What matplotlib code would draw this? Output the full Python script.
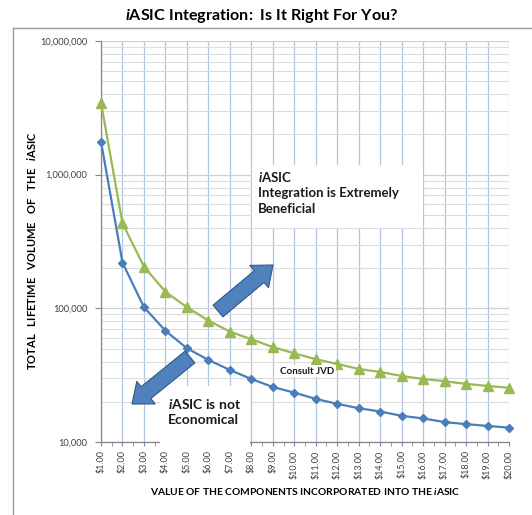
import matplotlib
matplotlib.use("Agg")
import matplotlib.pyplot as plt
from matplotlib.ticker import FixedLocator, FuncFormatter, LogLocator, NullFormatter, MultipleLocator
from matplotlib.lines import Line2D
from matplotlib.patches import Rectangle

plt.rcParams['font.family'] = ['Lato', 'DejaVu Sans']
plt.rcParams['mathtext.fontset'] = 'custom'
plt.rcParams['mathtext.it'] = 'Lato:italic:bold'
plt.rcParams['mathtext.rm'] = 'Lato:bold'
plt.rcParams['mathtext.bf'] = 'Lato:bold'

# Data
component_value = list(range(1, 21))
tick_labels = [f"${v}.00" for v in component_value]
volume_not_economical = [1770000, 220000, 102000, 68000, 50300, 41100, 34600, 29600, 25800,
                         23400, 21000, 19300, 17900, 16900, 15700, 15000, 14100, 13600, 13200, 12800]
volume_beneficial = [3460000, 433000, 205000, 133000, 102000, 81000, 67000, 58700, 51300,
                     46100, 41600, 38400, 35200, 33400, 31200, 29600, 28500, 27200, 26300, 25400]

W, H = 532, 515
fig = plt.figure(figsize=(W / 100, H / 100), dpi=100)
AX_L, AX_T, AX_W, AX_H = 101, 41, 408, 401
ax = fig.add_axes([AX_L / W, 1 - (AX_T + AX_H) / H, AX_W / W, AX_H / H])


def axfrac(px, py):
    return (px - AX_L) / AX_W, (AX_T + AX_H - py) / AX_H


ax.set_yscale('log')
ax.set_ylim(10000, 10000000)
ax.set_xlim(1, 20)

# grid / ticks
ax.xaxis.set_major_locator(FixedLocator(component_value))
ax.set_xticklabels(tick_labels, rotation=90, fontsize=6.5, color='#404040')
ax.xaxis.set_minor_locator(MultipleLocator(0.5))
ax.yaxis.set_major_locator(LogLocator(base=10, numticks=10))
ax.yaxis.set_minor_locator(LogLocator(base=10, subs=range(2, 10), numticks=20))
ax.yaxis.set_minor_formatter(NullFormatter())
ax.yaxis.set_major_formatter(FuncFormatter(lambda v, p: f"{int(round(v)):,}"))
ax.tick_params(axis='y', which='major', length=4, color='#868686', labelsize=6.7,
               labelcolor='#404040', pad=6)
ax.tick_params(axis='y', which='minor', length=0)
ax.tick_params(axis='x', which='major', length=3, color='#868686', pad=3)
ax.tick_params(axis='x', which='minor', length=3, color='#868686')

ax.grid(True, axis='x', which='major', color='#adc4e2', linewidth=0.9)
ax.grid(True, axis='y', which='major', color='#d0d0d0', linewidth=0.9)
ax.grid(True, axis='y', which='minor', color='#dcdcdc', linewidth=0.8)
ax.set_axisbelow(True)
for s in ['top', 'right']:
    ax.spines[s].set_visible(False)
for s in ['left', 'bottom']:
    ax.spines[s].set_color('#868686')
    ax.spines[s].set_linewidth(0.9)

ax.plot(component_value, volume_not_economical, color='#4a7ebb', lw=1.6, marker='D',
        ms=4.5, mfc='#4a7ebb', mec='#4a7ebb', zorder=3, clip_on=False)
ax.plot(component_value, volume_beneficial, color='#98b954', lw=1.6, marker='^',
        ms=6.5, mfc='#98b954', mec='#98b954', zorder=3, clip_on=False)

# labels
fig.text(262 / W, 1 - 16 / H, r"$\mathit{i}$ASIC Integration:  Is It Right For You?",
         ha='center', va='center', fontsize=11.6, fontweight='bold')
ax.set_xlabel(r"VALUE OF THE COMPONENTS INCORPORATED INTO THE $\mathit{i}$ASIC",
              fontsize=7.4, fontweight='bold', labelpad=5)
ax.set_ylabel(r"TOTAL   LIFETIME   VOLUME   OF   THE   $\mathit{i}$ASIC",
              fontsize=8, fontweight='bold')
ax.yaxis.set_label_coords((38 - AX_L) / AX_W, (AX_T + AX_H - 251) / AX_H)

# white boxes behind annotation texts
x0, y0 = axfrac(252, 228)
x1, y1 = axfrac(423, 165)
ax.add_patch(Rectangle((x0, y0), x1 - x0, y1 - y0, transform=ax.transAxes,
                       fc='white', ec='none', zorder=3.5))
x0, y0 = axfrac(160, 448)
x1, y1 = axfrac(250, 386)
ax.add_patch(Rectangle((x0, y0), x1 - x0, y1 - y0, transform=ax.transAxes,
                       fc='white', ec='none', zorder=3.5, clip_on=False))

tx, ty = axfrac(258, 170)
ax.text(tx, ty, r"$\mathit{i}$ASIC" "\n" "Integration is Extremely\nBeneficial",
        transform=ax.transAxes, ha='left', va='top', fontsize=9.5, fontweight='bold',
        linespacing=1.33, color='#1a1a1a', zorder=4)
tx, ty = axfrac(168, 397)
ax.text(tx, ty, r"$\mathit{i}$ASIC is not" "\nEconomical",
        transform=ax.transAxes, ha='left', va='top', fontsize=10, fontweight='bold',
        linespacing=1.35, color='#1a1a1a', zorder=4, clip_on=False)
tx, ty = axfrac(280, 371)
ax.text(tx, ty, "Consult JVD",
        transform=ax.transAxes, ha='left', va='center', fontsize=7, fontweight='bold',
        color='#1a1a1a', bbox=dict(boxstyle='square,pad=0.15', fc='white', ec='none'), zorder=4)

# block arrows
astyle = 'simple,head_length=13,head_width=21,tail_width=11'
for tail, tip in [((218, 311), (273, 265)), ((190, 357), (132, 404))]:
    ax.annotate('', xy=axfrac(*tip), xytext=axfrac(*tail),
                xycoords='axes fraction', textcoords='axes fraction',
                arrowprops=dict(arrowstyle=astyle, mutation_scale=1, fc='#4f81bd',
                                ec='#30588a', lw=0.8, shrinkA=0, shrinkB=0), zorder=5)

# chart area border
fig.add_artist(Line2D([13 / W, 13 / W], [0, 1 - 28 / H], color='#9a9a9a', lw=1.0,
                      transform=fig.transFigure))
fig.add_artist(Line2D([13 / W, 1], [1 - 28 / H, 1 - 28 / H], color='#9a9a9a', lw=1.0,
                      transform=fig.transFigure))

fig.savefig('out.png', dpi=100)
